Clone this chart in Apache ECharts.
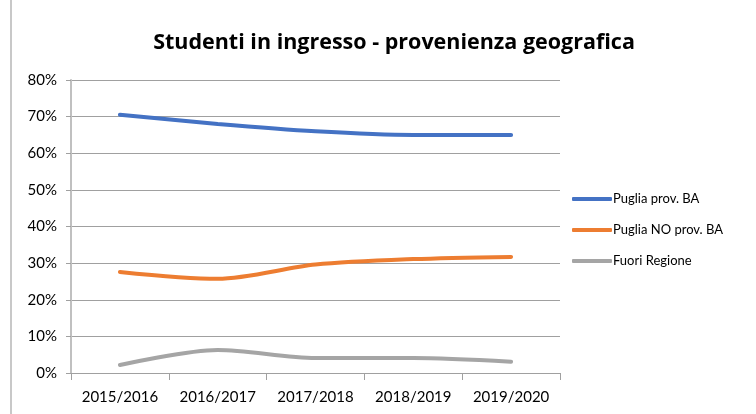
<!DOCTYPE html>
<html>
<head>
<meta charset="utf-8">
<script src="https://cdn.jsdelivr.net/npm/echarts@6/dist/echarts.min.js"></script>
<style>
    html, body { margin: 0; padding: 0; background: #fff; }
    #chart { width: 756px; height: 414px; }
    #frame { position: absolute; left: 10px; top: 0; width: 2px; height: 414px; background: #c8c8c8; }
</style>
</head>
<body>
<div id="frame"></div>
<div id="chart"></div>
<script>
// anni accademici
var categories = ["2015/2016", "2016/2017", "2017/2018", "2018/2019", "2019/2020"];
// percentuali
var pugliaBA = [70.5, 68.0, 66.0, 65.0, 65.0];
var pugliaNoBA = [27.6, 25.7, 29.6, 31.1, 31.7];
var fuoriRegione = [2.2, 6.3, 4.1, 4.1, 3.1];
var seriesNames = ["Puglia prov. BA", "Puglia NO prov. BA", "Fuori Regione"];

var chart = echarts.init(document.getElementById("chart"));

function lineSerie(name, data, color) {
    return {
        name: name,
        type: "line",
        data: data,
        smooth: 0.3,
        symbol: "none",
        lineStyle: { color: color, width: 4, cap: "round" },
        itemStyle: { color: color },
        animation: false
    };
}

chart.setOption({
    title: {
        text: "Studenti in ingresso - provenienza geografica",
        left: 389,
        top: 27,
        textAlign: "center",
        textStyle: {
            fontFamily: "Open Sans",
            fontWeight: "bold",
            fontSize: 21.5,
            color: "#000"
        }
    },
    grid: {
        left: 71,
        right: 196,
        top: 80,
        bottom: 41
    },
    legend: {
        orient: "vertical",
        left: 567,
        top: 187,
        itemWidth: 40,
        itemHeight: 4,
        itemGap: 17,
        icon: "roundRect",
        data: seriesNames,
        textStyle: {
            fontFamily: "Lato",
            fontSize: 13,
            color: "#000",
            padding: [0, 0, 0, -4],
            lineHeight: 14
        }
    },
    xAxis: {
        type: "category",
        data: categories,
        boundaryGap: true,
        axisLine: { lineStyle: { color: "#a0a0a0", width: 1 } },
        axisTick: { show: true, length: 7, lineStyle: { color: "#a0a0a0" } },
        axisLabel: {
            interval: 0,
            fontFamily: "Lato",
            fontSize: 15,
            color: "#000",
            margin: 17
        }
    },
    yAxis: {
        type: "value",
        min: 0,
        max: 80,
        interval: 10,
        axisLine: { show: true, lineStyle: { color: "#c0c0c0", width: 2 } },
        axisTick: { show: true, length: 5, lineStyle: { color: "#a0a0a0" } },
        splitLine: { lineStyle: { color: "#a0a0a0", width: 1 } },
        axisLabel: {
            fontFamily: "Lato",
            fontSize: 15,
            color: "#000",
            margin: 14,
            formatter: "{value}%"
        }
    },
    series: [
        lineSerie(seriesNames[0], pugliaBA, "#4472C4"),
        lineSerie(seriesNames[1], pugliaNoBA, "#ED7D31"),
        lineSerie(seriesNames[2], fuoriRegione, "#A5A5A5")
    ]
});
</script>
</body>
</html>
